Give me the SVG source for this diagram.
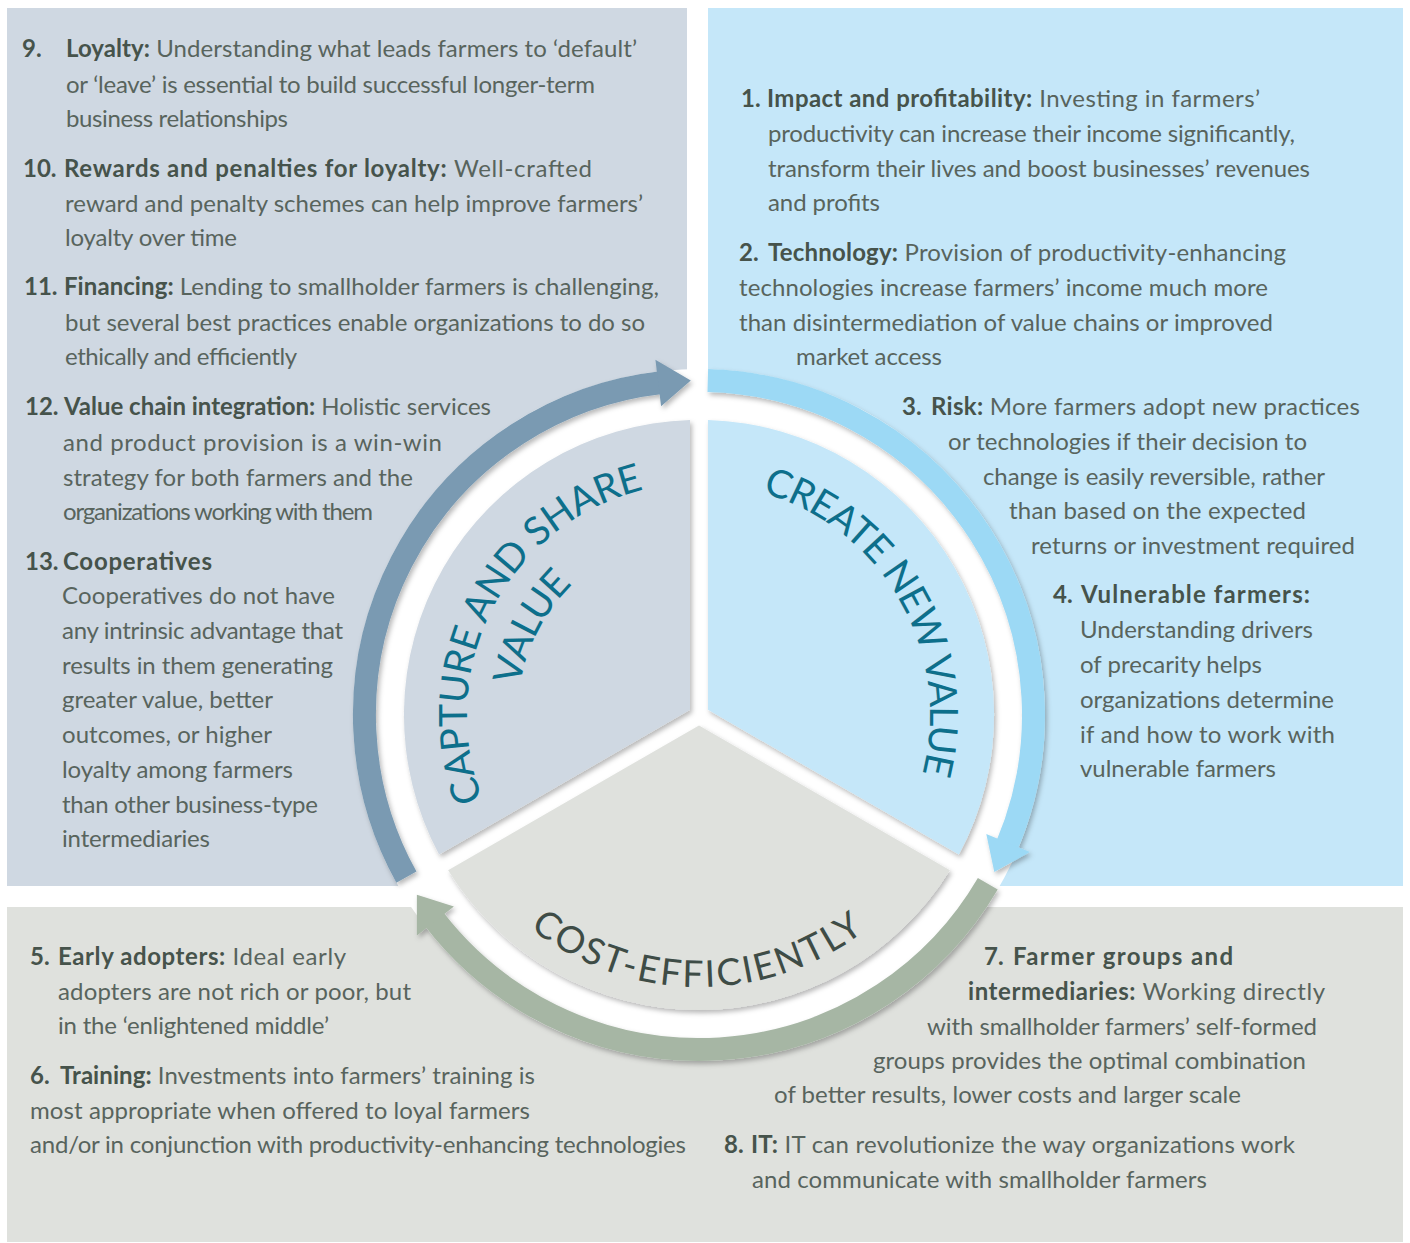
<svg xmlns="http://www.w3.org/2000/svg" width="1410" height="1243" viewBox="0 0 1410 1243">
<defs>
<style>
.t{font-family:Lato,"Open Sans","Liberation Sans",sans-serif;font-size:24px;fill:#58645d}
.b{font-weight:700;fill:#46534b}
.arc{font-family:Lato,"Open Sans","Liberation Sans",sans-serif;font-size:39px;fill:#0d6f8b}
.arc2{font-family:Lato,"Open Sans","Liberation Sans",sans-serif;font-size:37px;fill:#3e4c46}
.band{fill:none;stroke-width:23;stroke-linecap:butt}
</style>
<filter id="sh" x="-15%" y="-15%" width="135%" height="135%">
<feDropShadow dx="2" dy="3" stdDeviation="2.5" flood-color="#000" flood-opacity="0.28"/>
</filter>
<path id="pCapture" d="M503.3,839.7 A232,232 0 0 1 688.9,483.2"/>
<path id="pValue" d="M521.7,753.4 A182,182 0 0 1 629.4,546.9"/>
<path id="pCreate" d="M700.2,484 A231,231 0 0 1 898.4,831.5"/>
<path id="pCost" d="M462.3,848.9 A272,272 0 0 0 933.4,853"/>
</defs>
<rect width="1410" height="1243" fill="#ffffff"/>

<g id="panel-capture">
<rect x="7" y="8" width="680" height="878" fill="#cfd8e2"/>
</g>
<g id="panel-create">
<rect x="708" y="8" width="695" height="878" fill="#c5e7f9"/>
</g>
<g id="panel-cost">
<rect x="7" y="907" width="1396" height="335" fill="#dfe1dd"/>
</g>

<circle cx="699" cy="715" r="346" fill="#ffffff"/>

<g id="sector-capture">
<path d="M690,709.8 L439.1,854.6 A295,295 0 0 1 690,420.1 Z" fill="#cfd8e2" filter="url(#sh)"/>
<text class="arc"><textPath href="#pCapture" startOffset="50%" text-anchor="middle" textLength="395">CAPTURE AND SHARE</textPath></text>
<text class="arc"><textPath href="#pValue" startOffset="50%" text-anchor="middle" textLength="116">VALUE</textPath></text>
</g>
<g id="sector-create">
<path d="M708,709.8 L708,420.1 A295,295 0 0 1 958.9,854.6 Z" fill="#c5e7f9" filter="url(#sh)"/>
<text class="arc"><textPath href="#pCreate" startOffset="50%" text-anchor="middle" textLength="358">CREATE NEW VALUE</textPath></text>
</g>
<g id="sector-cost">
<path d="M699,725.4 L949.9,870.2 A295,295 0 0 1 448.1,870.2 Z" fill="#dfe1dd" filter="url(#sh)"/>
<text class="arc2"><textPath href="#pCost" startOffset="50%" text-anchor="middle" textLength="360">COST-EFFICIENTLY</textPath></text>
</g>

<g id="connectors" filter="url(#sh)">
<g id="arrow-capture-to-create" fill="#7a9ab2">
<path class="band" stroke="#7a9ab2" d="M406.4,877.2 A334.5,334.5 0 0 1 661.1,382.6"/>
<polygon points="661.1,406.3 655.4,359.7 690.8,380.6"/>
</g>
<g id="arrow-create-to-cost" fill="#9cd9f5">
<path class="band" stroke="#9cd9f5" d="M707.8,380.6 A334.5,334.5 0 0 1 1006.9,845.7"/>
<polygon points="986.3,834 1029.8,852 994.3,872"/>
</g>
<g id="arrow-cost-to-capture" fill="#a6b6a4">
<path class="band" stroke="#a6b6a4" d="M987.8,883.8 A334.5,334.5 0 0 1 433.6,918.6"/>
<polygon points="453.9,906.5 416.9,935.4 416.9,894.7"/>
</g>
</g>

<g id="text-capture" class="t">
<text x="22" y="57" class="b">9.</text>
<text x="66" y="57" textLength="571"><tspan class="b">Loyalty:</tspan> Understanding what leads farmers to ‘default’</text>
<text x="66" y="93" textLength="529">or ‘leave’ is essential to build successful longer-term</text>
<text x="66" y="127" textLength="222">business relationships</text>
<text x="23" y="177" class="b">10.</text>
<text x="64" y="177" textLength="528"><tspan class="b">Rewards and penalties for loyalty:</tspan> Well-crafted</text>
<text x="65" y="212" textLength="578">reward and penalty schemes can help improve farmers’</text>
<text x="65" y="246" textLength="172">loyalty over time</text>
<text x="24" y="295" class="b">11.</text>
<text x="64" y="295" textLength="595"><tspan class="b">Financing:</tspan> Lending to smallholder farmers is challenging,</text>
<text x="65" y="331" textLength="580">but several best practices enable organizations to do so</text>
<text x="65" y="365" textLength="232">ethically and efficiently</text>
<text x="25" y="415" class="b">12.</text>
<text x="64" y="415" textLength="427"><tspan class="b">Value chain integration:</tspan> Holistic services</text>
<text x="63" y="451" textLength="379">and product provision is a win-win</text>
<text x="63" y="486" textLength="350">strategy for both farmers and the</text>
<text x="63" y="520" textLength="310">organizations working with them</text>
<text x="25" y="570" class="b">13.</text>
<text x="63" y="570" class="b" textLength="149">Cooperatives</text>
<text x="62" y="604" textLength="273">Cooperatives do not have</text>
<text x="62" y="639" textLength="281">any intrinsic advantage that</text>
<text x="62" y="674" textLength="271">results in them generating</text>
<text x="62" y="708" textLength="211">greater value, better</text>
<text x="62" y="743" textLength="210">outcomes, or higher</text>
<text x="62" y="778" textLength="231">loyalty among farmers</text>
<text x="62" y="813" textLength="256">than other business-type</text>
<text x="62" y="847" textLength="148">intermediaries</text>
</g>

<g id="text-create" class="t">
<text x="741" y="107" class="b">1.</text>
<text x="767" y="107" textLength="493"><tspan class="b">Impact and profitability:</tspan> Investing in farmers’</text>
<text x="768" y="142" textLength="527">productivity can increase their income significantly,</text>
<text x="768" y="177" textLength="542">transform their lives and boost businesses’ revenues</text>
<text x="768" y="211" textLength="112">and profits</text>
<text x="739" y="261" class="b">2.</text>
<text x="768" y="261" textLength="518"><tspan class="b">Technology:</tspan> Provision of productivity-enhancing</text>
<text x="739" y="296" textLength="529">technologies increase farmers’ income much more</text>
<text x="739" y="331" textLength="534">than disintermediation of value chains or improved</text>
<text x="796" y="365" textLength="146">market access</text>
<text x="902" y="415" class="b">3.</text>
<text x="931" y="415" textLength="429"><tspan class="b">Risk:</tspan> More farmers adopt new practices</text>
<text x="948" y="450" textLength="359">or technologies if their decision to</text>
<text x="983" y="485" textLength="342">change is easily reversible, rather</text>
<text x="1009" y="519" textLength="297">than based on the expected</text>
<text x="1031" y="554" textLength="324">returns or investment required</text>
<text x="1053" y="603" class="b">4.</text>
<text x="1081" y="603" class="b" textLength="229">Vulnerable farmers:</text>
<text x="1080" y="638" textLength="233">Understanding drivers</text>
<text x="1080" y="673" textLength="182">of precarity helps</text>
<text x="1080" y="708" textLength="254">organizations determine</text>
<text x="1080" y="743" textLength="255">if and how to work with</text>
<text x="1080" y="777" textLength="196">vulnerable farmers</text>
</g>

<g id="text-cost" class="t">
<text x="30" y="965" class="b">5.</text>
<text x="58" y="965" textLength="288"><tspan class="b">Early adopters:</tspan> Ideal early</text>
<text x="58" y="1000" textLength="353">adopters are not rich or poor, but</text>
<text x="58" y="1034" textLength="271">in the ‘enlightened middle’</text>
<text x="30" y="1084" class="b">6.</text>
<text x="60" y="1084" textLength="475"><tspan class="b">Training:</tspan> Investments into farmers’ training is</text>
<text x="30" y="1119" textLength="500">most appropriate when offered to loyal farmers</text>
<text x="30" y="1153" textLength="656">and/or in conjunction with productivity-enhancing technologies</text>
<text x="984" y="965" class="b">7.</text>
<text x="1013" y="965" class="b" textLength="220">Farmer groups and</text>
<text x="968" y="1000" textLength="357"><tspan class="b">intermediaries:</tspan> Working directly</text>
<text x="927" y="1035" textLength="390">with smallholder farmers’ self-formed</text>
<text x="873" y="1069" textLength="433">groups provides the optimal combination</text>
<text x="774" y="1103" textLength="467">of better results, lower costs and larger scale</text>
<text x="724" y="1153" class="b">8.</text>
<text x="751" y="1153" textLength="544"><tspan class="b">IT:</tspan> IT can revolutionize the way organizations work</text>
<text x="752" y="1188" textLength="455">and communicate with smallholder farmers</text>
</g>
</svg>
